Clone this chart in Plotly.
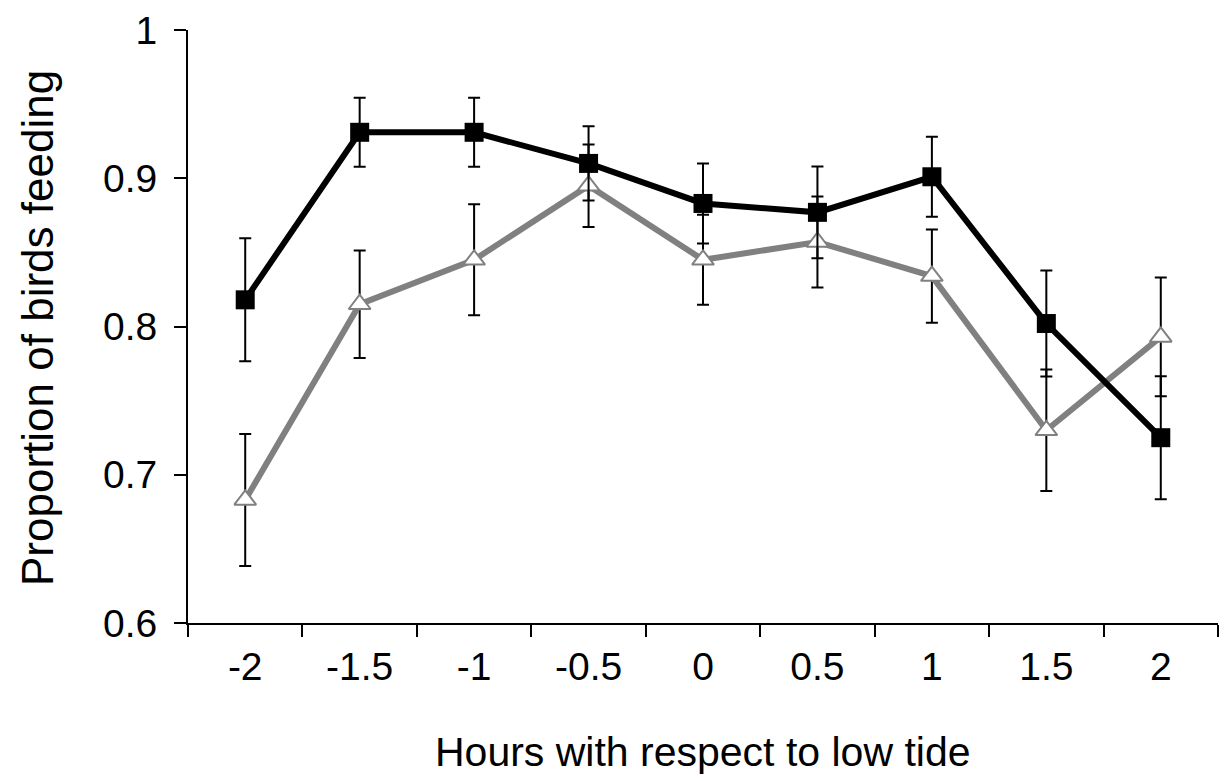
import plotly.graph_objects as go

hours = ["-2", "-1.5", "-1", "-0.5", "0", "0.5", "1", "1.5", "2"]

black_vals = [0.818, 0.931, 0.931, 0.910, 0.883, 0.877, 0.901, 0.802, 0.725]
black_err = [0.0415, 0.0233, 0.0233, 0.025, 0.027, 0.031, 0.027, 0.0357, 0.0415]

gray_vals = [0.683, 0.815, 0.845, 0.895, 0.845, 0.857, 0.834, 0.730, 0.793]
gray_err = [0.0445, 0.0363, 0.0374, 0.0278, 0.0303, 0.0307, 0.0314, 0.041, 0.040]

y_ticks = [0.6, 0.7, 0.8, 0.9, 1.0]
y_ticklabels = ["0.6", "0.7", "0.8", "0.9", "1"]

x_title = "Hours with respect to low tide"
y_title = "Proportion of birds feeding"

FONT = "Liberation Sans, Arial, sans-serif"

fig = go.Figure()

fig.add_trace(go.Scatter(
    x=hours, y=gray_vals, mode="lines+markers",
    line=dict(color="#808080", width=6),
    marker=dict(symbol="triangle-up", size=19, color="white",
                line=dict(color="#808080", width=2)),
    error_y=dict(type="data", array=gray_err, visible=True,
                 color="black", thickness=2, width=6),
    showlegend=False,
))

fig.add_trace(go.Scatter(
    x=hours, y=black_vals, mode="lines+markers",
    line=dict(color="black", width=6),
    marker=dict(symbol="square", size=19, color="black"),
    error_y=dict(type="data", array=black_err, visible=True,
                 color="black", thickness=2, width=6),
    showlegend=False,
))

fig.update_layout(
    width=1227, height=781,
    margin=dict(l=188, r=9, t=28, b=158),
    paper_bgcolor="white", plot_bgcolor="white",
    font=dict(family=FONT, color="black", size=39),
    xaxis=dict(
        type="category", tickson="boundaries", ticks="outside",
        ticklen=12, tickwidth=2, tickcolor="black",
        showline=True, linecolor="black", linewidth=2,
        showgrid=False, zeroline=False,
        tickfont=dict(size=39), range=[-0.5, 8.5],
        ticklabelstandoff=8,
    ),
    yaxis=dict(
        range=[0.6, 1.0], tickvals=y_ticks, ticktext=y_ticklabels,
        ticks="outside", ticklen=12, tickwidth=2, tickcolor="black",
        showline=True, linecolor="black", linewidth=2,
        showgrid=False, zeroline=False,
        tickfont=dict(size=39), ticklabelstandoff=9,
    ),
    annotations=[
        dict(text=x_title, xref="paper", yref="paper",
             x=(703 - 188) / 1030, y=(623 - 752) / 595,
             xanchor="center", yanchor="middle", showarrow=False,
             font=dict(size=41)),
        dict(text=y_title, xref="paper", yref="paper",
             x=(38 - 188) / 1030, y=(623 - 327) / 595,
             xanchor="center", yanchor="middle", showarrow=False,
             textangle=-90, font=dict(size=44)),
    ],
)

fig.write_html("out.html")
